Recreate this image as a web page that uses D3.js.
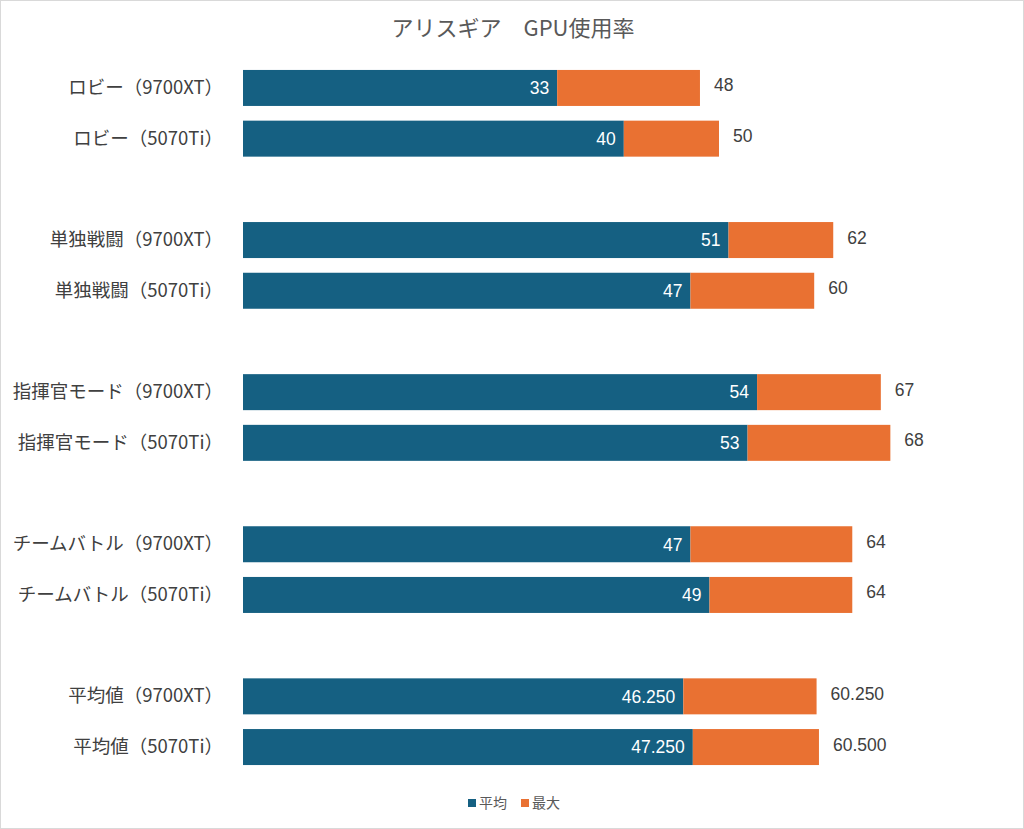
<!DOCTYPE html>
<html><head><meta charset="utf-8">
<script src="https://cdn.jsdelivr.net/npm/d3@7"></script>
<style>
html,body{margin:0;padding:0;background:#fff;}
svg{display:block;font-family:"Liberation Sans","Noto Sans CJK JP",sans-serif;}
</style></head>
<body>
<svg id="chart" width="1024" height="829"></svg>
<script>
const title = "アリスギア　GPU使用率";
const categories = [
  "ロビー（9700XT）","ロビー（5070Ti）",
  "単独戦闘（9700XT）","単独戦闘（5070Ti）",
  "指揮官モード（9700XT）","指揮官モード（5070Ti）",
  "チームバトル（9700XT）","チームバトル（5070Ti）",
  "平均値（9700XT）","平均値（5070Ti）"
];
const avgValues = [33, 40, 51, 47, 54, 53, 47, 49, 46.25, 47.25];
const maxValues = [48, 50, 62, 60, 67, 68, 64, 64, 60.25, 60.5];
const avgLabels = ["33","40","51","47","54","53","47","49","46.250","47.250"];
const maxLabels = ["48","50","62","60","67","68","64","64","60.250","60.500"];
const seriesNames = ["平均","最大"];
const colors = ["#156082","#E97132"];

const svg = d3.select("#chart");
const W = 1024, H = 829;
svg.append("rect").attr("x",0.5).attr("y",0.5).attr("width",W-1).attr("height",H-1)
  .attr("fill","#fff").attr("stroke","#d9d9d9").attr("stroke-width",1);

// row slots: 2 categories per group, with a spacer between groups
const slots = [];
categories.forEach((c,i)=>{ if(i>0 && i%2===0) slots.push("gap"+i); slots.push(c); });

const x = d3.scaleLinear().domain([0,100]).range([243, 243+952]);
const y = d3.scaleBand().domain(slots).range([62.6, 772.4]).paddingInner(0.29).paddingOuter(0.145);

svg.append("text").attr("x",513).attr("y",36).attr("text-anchor","middle")
  .attr("font-size",22).attr("fill","#595959")
  .attr("font-family","'Noto Sans CJK JP',sans-serif").text(title);

// category axis labels
const yAxis = d3.axisLeft(y).tickSize(0).tickPadding(20)
  .tickFormat(d => d.startsWith("gap") ? "" : d);
const ya = svg.append("g").attr("transform",`translate(${x(0)},0)`).call(yAxis);
ya.select(".domain").remove();
ya.selectAll("text").attr("font-size",18.5).attr("fill","#404040")
  .attr("font-family","'Noto Sans CJK JP','Liberation Sans',sans-serif");

const rows = categories.map((c,i)=>({c, avg:avgValues[i], max:maxValues[i], al:avgLabels[i], ml:maxLabels[i]}));

const g = svg.append("g");
g.selectAll("rect.avg").data(rows).join("rect").attr("class","avg")
  .attr("x",x(0)).attr("y",d=>y(d.c)).attr("width",d=>x(d.avg)-x(0)).attr("height",y.bandwidth())
  .attr("fill",colors[0]);
g.selectAll("rect.max").data(rows).join("rect").attr("class","max")
  .attr("x",d=>x(d.avg)).attr("y",d=>y(d.c)).attr("width",d=>x(d.max)-x(d.avg)).attr("height",y.bandwidth())
  .attr("fill",colors[1]);

g.selectAll("text.al").data(rows).join("text").attr("class","al")
  .attr("x",d=>x(d.avg)-8).attr("y",d=>y(d.c)+y.bandwidth()/2).attr("dy","0.36em")
  .attr("text-anchor","end").attr("font-size",17.5).attr("fill","#fff").text(d=>d.al);
g.selectAll("text.ml").data(rows).join("text").attr("class","ml")
  .attr("x",d=>x(d.max)+14).attr("y",d=>y(d.c)+y.bandwidth()/2).attr("dy","0.2em")
  .attr("text-anchor","start").attr("font-size",17.5).attr("fill","#404040").text(d=>d.ml);

// legend
const lg = svg.append("g").attr("transform","translate(468,803)");
const items = [{n:seriesNames[0],c:colors[0],x:0},{n:seriesNames[1],c:colors[1],x:53}];
items.forEach(it=>{
  lg.append("rect").attr("x",it.x).attr("y",-4).attr("width",8).attr("height",8).attr("fill",it.c);
  lg.append("text").attr("x",it.x+11).attr("y",0).attr("dy","0.35em").attr("font-size",14)
    .attr("fill","#595959").attr("font-family","'Noto Sans CJK JP',sans-serif").text(it.n);
});
</script>
</body></html>
